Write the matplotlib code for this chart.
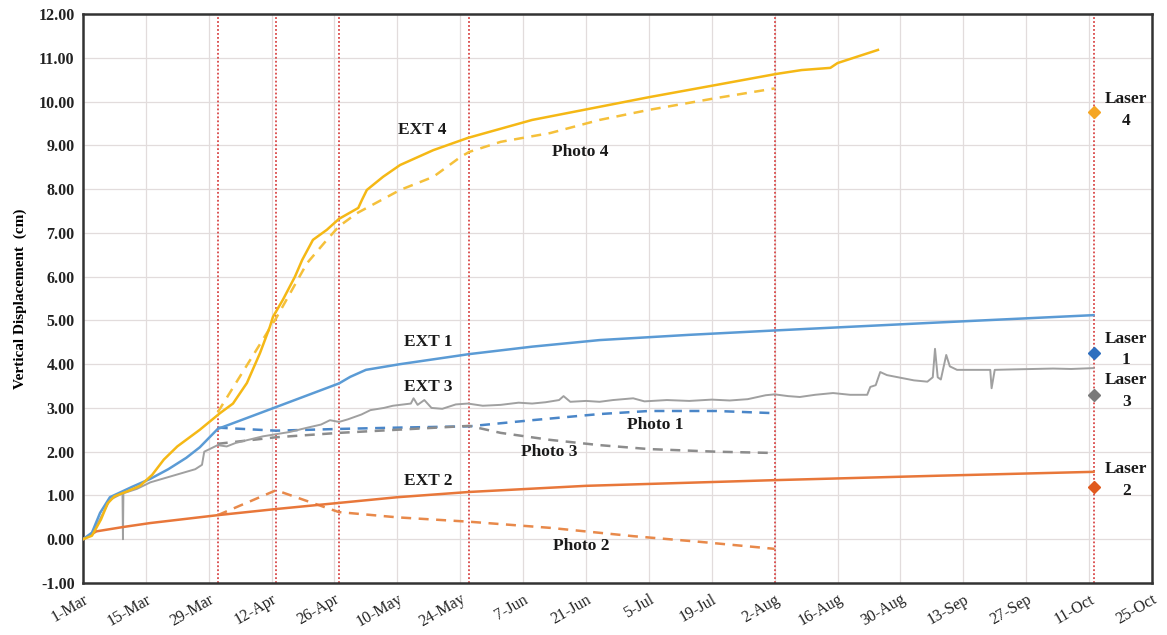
import matplotlib
matplotlib.use("Agg")
import matplotlib.pyplot as plt

# days counted from 1-Mar
tick_days = list(range(0, 239, 14))
tick_labels = ["1-Mar", "15-Mar", "29-Mar", "12-Apr", "26-Apr", "10-May", "24-May",
               "7-Jun", "21-Jun", "5-Jul", "19-Jul", "2-Aug", "16-Aug", "30-Aug",
               "13-Sep", "27-Sep", "11-Oct", "25-Oct"]

# survey dates (31-Mar, 13-Apr, 27-Apr, 26-May, 2-Aug, 12-Oct)
survey_days = [30, 43, 57, 86, 154, 225]

# extensometers
ext1_t = [0, 2, 3.8, 6, 11, 15, 19, 23, 26, 30, 43, 57, 59.5, 63, 70.6, 86, 100, 115, 135, 154, 190, 225]
ext1_y = [0, 0.15, 0.6, 0.96, 1.2, 1.38, 1.6, 1.86, 2.1, 2.52, 3.02, 3.56, 3.71, 3.87, 4.0, 4.23, 4.4, 4.55, 4.67, 4.77, 4.95, 5.12]

ext2_t = [0, 3, 9, 15, 30, 43, 57, 70, 86, 112, 154, 190, 225]
ext2_y = [0, 0.18, 0.28, 0.37, 0.55, 0.69, 0.83, 0.96, 1.08, 1.22, 1.35, 1.45, 1.54]

ext3_t = [0, 2, 4, 6, 8.8, 8.9, 9.0, 12, 15, 20, 25, 26.5, 27, 28, 30, 32, 34, 36, 40, 43,
          46, 50, 53, 55, 57, 59, 62, 64, 67, 69, 70.6, 73, 73.6, 74.5, 76, 77.6, 80, 83,
          85.7, 89, 93, 97, 100, 103, 106, 107, 108.5, 112, 115, 118, 122.5, 125, 130,
          135, 140, 144, 148, 152, 154, 157, 159.6, 163, 167, 170.8, 174.6, 175.3, 176.5,
          177.5, 179, 182, 185, 188, 189.2, 189.7, 190.3, 191, 192.2, 193, 194.6, 198,
          202, 202.3, 203, 207, 211.6, 216, 220, 225]
ext3_y = [0, 0.1, 0.5, 0.9, 1.05, 0.0, 1.05, 1.15, 1.3, 1.45, 1.6, 1.7, 2.0, 2.05, 2.15,
          2.12, 2.2, 2.25, 2.35, 2.4, 2.45, 2.55, 2.62, 2.72, 2.68, 2.74, 2.85, 2.95, 3.0,
          3.05, 3.07, 3.1, 3.22, 3.07, 3.18, 3.0, 2.98, 3.08, 3.1, 3.05, 3.07, 3.12, 3.1,
          3.13, 3.18, 3.27, 3.14, 3.16, 3.14, 3.18, 3.22, 3.15, 3.18, 3.16, 3.19, 3.17,
          3.2, 3.29, 3.31, 3.27, 3.25, 3.3, 3.34, 3.3, 3.3, 3.48, 3.52, 3.82, 3.75, 3.69,
          3.63, 3.6, 3.7, 4.35, 3.7, 3.65, 4.21, 3.95, 3.87, 3.87, 3.87, 3.45, 3.87, 3.88,
          3.89, 3.9, 3.89, 3.91]

ext4_t = [0, 2, 4, 5.5, 7, 10, 12.7, 15.4, 18, 21, 26, 30.5, 33.4, 36.5, 39.4, 41.6,
          42.3, 44.5, 47.2, 48.8, 51.2, 54.3, 57, 61.3, 62.1, 63.2, 66.8, 70.6, 78, 85.7,
          100, 115, 126, 141, 154.3, 160, 166.4, 168, 177]
ext4_y = [0, 0.08, 0.45, 0.82, 0.98, 1.1, 1.22, 1.47, 1.82, 2.12, 2.5, 2.88, 3.1, 3.57,
          4.25, 4.85, 5.08, 5.47, 6.0, 6.38, 6.84, 7.07, 7.32, 7.57, 7.75, 7.98, 8.28,
          8.55, 8.89, 9.17, 9.58, 9.88, 10.1, 10.38, 10.63, 10.72, 10.77, 10.88, 11.18]

# photogrammetry
photo1_t = [30, 43, 57, 70, 86, 100, 115, 126, 141, 154]
photo1_y = [2.55, 2.48, 2.52, 2.55, 2.58, 2.72, 2.86, 2.93, 2.93, 2.88]

photo2_t = [30, 43, 48, 55, 57, 70, 86, 104, 122.5, 137.4, 154]
photo2_y = [0.55, 1.12, 0.94, 0.69, 0.62, 0.5, 0.4, 0.26, 0.07, -0.06, -0.22]

photo3_t = [30, 43, 57, 86, 93, 104, 115, 126, 141, 154]
photo3_y = [2.18, 2.33, 2.43, 2.59, 2.43, 2.27, 2.15, 2.06, 2.0, 1.97]

photo4_t = [30, 43, 49.9, 54.3, 57, 61, 70.6, 78, 84, 86, 93, 104, 115, 126, 141, 154]
photo4_y = [2.9, 5.05, 6.31, 6.84, 7.15, 7.45, 7.98, 8.28, 8.73, 8.85, 9.08, 9.28, 9.58,
            9.81, 10.08, 10.3]

# laser readings on the last survey
laser_y = [4.25, 1.19, 3.3, 9.76]
laser_names = ["Laser\n1", "Laser\n2", "Laser\n3", "Laser\n4"]
laser_label_y = [4.33, 1.35, 3.39, 9.81]

c1 = "#5B9BD5"
c2 = "#E8773A"
c3 = "#A0A0A0"
c4 = "#F5B815"
laser_colors = ["#2E6FBF", "#E05A1E", "#7A7A7A", "#F5A623"]

plt.rcParams["font.family"] = ["Liberation Serif", "DejaVu Serif"]

fig = plt.figure(figsize=(11.67, 6.35), dpi=100)
ax = fig.add_axes([0.0711, 0.0819, 0.916, 0.896])

for d in survey_days:
    ax.axvline(d, color="#D94848", linestyle=(0, (1, 1.2)), linewidth=1.3, zorder=1)

ax.plot(photo1_t, photo1_y, color="#4A86C8", linestyle=(0, (4, 3)), linewidth=1.8, zorder=2)
ax.plot(photo2_t, photo2_y, color="#E8894A", linestyle=(0, (4, 3)), linewidth=1.8, zorder=2)
ax.plot(photo3_t, photo3_y, color="#8C8C8C", linestyle=(0, (4, 3)), linewidth=1.8, zorder=2)
ax.plot(photo4_t, photo4_y, color="#F5C03A", linestyle=(0, (4, 3)), linewidth=1.8, zorder=2)

ax.plot(ext3_t, ext3_y, color=c3, linewidth=1.4, zorder=3)
ax.plot(ext2_t, ext2_y, color=c2, linewidth=1.8, zorder=3)
ax.plot(ext1_t, ext1_y, color=c1, linewidth=1.8, zorder=3)
ax.plot(ext4_t, ext4_y, color=c4, linewidth=1.8, zorder=3)

for y, col in zip(laser_y, laser_colors):
    ax.plot(survey_days[-1], y, marker="D", markersize=6, color=col, zorder=4)

fs = 12.5
lbl = dict(fontsize=fs, ha="center", va="center", fontweight="bold", color="#1A1A1A")
ax.text(75.5, 9.35, "EXT 4", **lbl)
ax.text(110.7, 8.85, "Photo 4", **lbl)
ax.text(76.8, 4.5, "EXT 1", **lbl)
ax.text(76.8, 3.48, "EXT 3", **lbl)
ax.text(76.8, 1.33, "EXT 2", **lbl)
ax.text(127.4, 2.61, "Photo 1", **lbl)
ax.text(103.8, 2.0, "Photo 3", **lbl)
ax.text(111, -0.15, "Photo 2", **lbl)
for name, y in zip(laser_names, laser_label_y):
    ax.text(232.3, y, name, linespacing=1.45, **lbl)

ax.set_xlim(0, 238)
ax.set_ylim(-1, 12)
ax.set_xticks(tick_days)
ax.set_xticklabels(tick_labels, rotation=30, ha="right", rotation_mode="anchor",
                   fontsize=11.5, color="#222222")
ax.set_yticks(range(-1, 13))
ax.set_yticklabels(["%.2f" % v for v in range(-1, 13)], fontsize=11.5, fontweight="bold",
                   color="#222222")
ax.tick_params(length=0, pad=6)
ax.grid(color="#E2DCDC", linewidth=0.9, zorder=0)
ax.set_axisbelow(True)
for s in ax.spines.values():
    s.set_color("#333333")
    s.set_linewidth(1.8)

ax.set_ylabel("Vertical Displacement  (cm)", fontsize=11, fontweight="bold", labelpad=8)

fig.savefig("out.png", dpi=100)
